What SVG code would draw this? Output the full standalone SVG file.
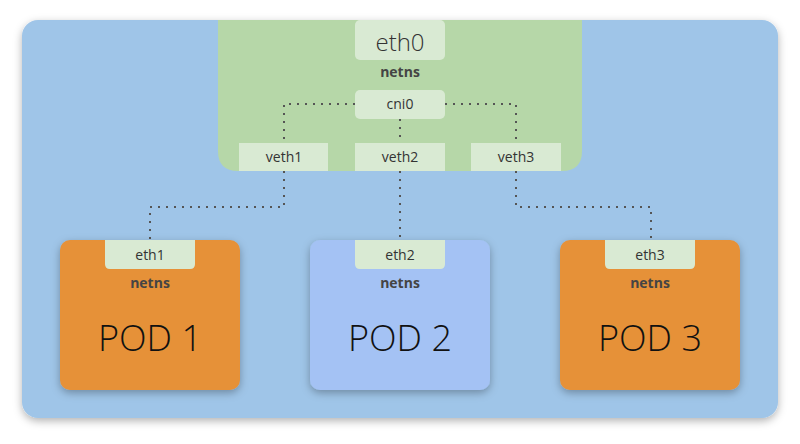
<svg xmlns="http://www.w3.org/2000/svg" width="800" height="444" viewBox="0 0 800 444">
<defs>
<filter id="sh" x="-10%" y="-10%" width="120%" height="130%"><feDropShadow dx="0" dy="3" stdDeviation="4" flood-color="#000" flood-opacity="0.3"/></filter>
<style>
.lb{fill:#d9ead3}
.t{font-family:"Open Sans","Noto Sans",sans-serif;fill:#333;text-anchor:middle}
.s{font-size:14px}
.b{font-size:14px;font-weight:bold;fill:#444}
.pod{font-size:36px;font-weight:300;fill:#111}
.c{fill:none;stroke:#555;stroke-width:2;stroke-dasharray:2 6}
</style>
</defs>
<rect width="800" height="444" fill="#fff"/>
<rect id="host" x="22" y="20" width="756" height="398" rx="16" fill="#9fc5e8" filter="url(#sh)"/>
<g id="root">
<path d="M218 20H582V151Q582 171 562 171H238Q218 171 218 151Z" fill="#b6d7a8"/>
<rect class="lb" x="355" y="20" width="90" height="40" rx="5"/>
<text class="t" x="400" y="51" font-size="24" font-weight="300">eth0</text>
<text class="t b" x="400" y="77">netns</text>
</g>
<g id="cni0"><rect class="lb" x="355" y="90" width="90" height="29" rx="5"/><text class="t s" x="400" y="109">cni0</text></g>
<g id="veth1"><rect class="lb" x="239" y="143" width="89" height="28"/><text class="t s" x="284" y="162">veth1</text></g>
<g id="veth2"><rect class="lb" x="355" y="143" width="90" height="28"/><text class="t s" x="400" y="162">veth2</text></g>
<g id="veth3"><rect class="lb" x="471" y="143" width="90" height="28"/><text class="t s" x="516" y="162">veth3</text></g>
<g id="connectors">
<path class="c" d="M355 104H284V143"/>
<path class="c" d="M445 104H516V143"/>
<path class="c" d="M400 119V143"/>
<path class="c" d="M284 171V207H150V240"/>
<path class="c" d="M400 171V240"/>
<path class="c" d="M516 171V207H651V240"/>
</g>
<g id="pod1"><rect x="60" y="240" width="180" height="150" rx="10" fill="#e69138" filter="url(#sh)"/><path class="lb" d="M105 240H195V264Q195 269 190 269H110Q105 269 105 264Z"/><text class="t s" x="150" y="260">eth1</text><text class="t b" x="150" y="288">netns</text><text class="t pod" x="150" y="351">POD 1</text></g>
<g id="pod2"><rect x="310" y="240" width="180" height="150" rx="10" fill="#a4c2f4" filter="url(#sh)"/><path class="lb" d="M355 240H445V264Q445 269 440 269H360Q355 269 355 264Z"/><text class="t s" x="400" y="260">eth2</text><text class="t b" x="400" y="288">netns</text><text class="t pod" x="400" y="351">POD 2</text></g>
<g id="pod3"><rect x="560" y="240" width="180" height="150" rx="10" fill="#e69138" filter="url(#sh)"/><path class="lb" d="M605 240H695V264Q695 269 690 269H610Q605 269 605 264Z"/><text class="t s" x="650" y="260">eth3</text><text class="t b" x="650" y="288">netns</text><text class="t pod" x="650" y="351">POD 3</text></g>
</svg>
